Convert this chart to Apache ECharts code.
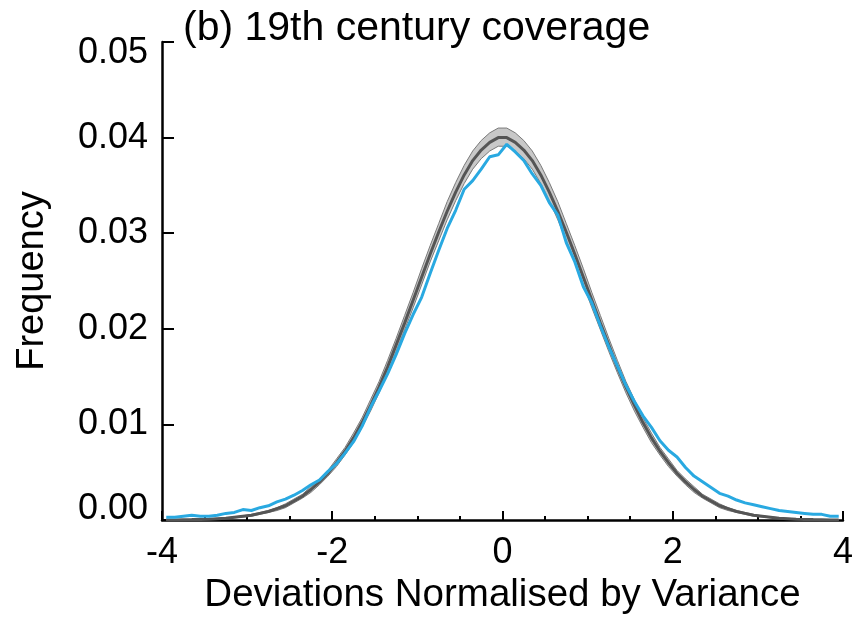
<!DOCTYPE html>
<html>
<head>
<meta charset="utf-8">
<title>19th century coverage</title>
<script src="https://cdn.jsdelivr.net/npm/echarts@6/dist/echarts.min.js"></script>
<style>
  html, body { margin: 0; padding: 0; background: #ffffff; }
  #chart { width: 856px; height: 620px; }
</style>
</head>
<body>
<div id="chart"></div>
<script>
// Bin centres of the normalised-deviation histogram (bin width 0.1)
const binCentres = [
  -3.95, -3.85, -3.75, -3.65, -3.55, -3.45, -3.35, -3.25, -3.15, -3.05,
  -2.95, -2.85, -2.75, -2.65, -2.55, -2.45, -2.35, -2.25, -2.15, -2.05,
  -1.95, -1.85, -1.75, -1.65, -1.55, -1.45, -1.35, -1.25, -1.15, -1.05,
  -0.95, -0.85, -0.75, -0.65, -0.55, -0.45, -0.35, -0.25, -0.15, -0.05,
   0.05,  0.15,  0.25,  0.35,  0.45,  0.55,  0.65,  0.75,  0.85,  0.95,
   1.05,  1.15,  1.25,  1.35,  1.45,  1.55,  1.65,  1.75,  1.85,  1.95,
   2.05,  2.15,  2.25,  2.35,  2.45,  2.55,  2.65,  2.75,  2.85,  2.95,
   3.05,  3.15,  3.25,  3.35,  3.45,  3.55,  3.65,  3.75,  3.85,  3.95
];

// Ensemble mean frequency
const ensembleMean = [
  0.00002, 0.00002, 0.00004, 0.00005, 0.00007, 0.0001, 0.00015, 0.0002, 0.0003, 0.0004,
  0.0005, 0.0007, 0.0009, 0.0012, 0.0015, 0.0020, 0.0025, 0.0032, 0.0040, 0.0049,
  0.0060, 0.0072, 0.0086, 0.0102, 0.0120, 0.0139, 0.0160, 0.0183, 0.0206, 0.0230,
  0.0254, 0.0278, 0.0301, 0.0323, 0.0343, 0.0361, 0.0376, 0.0387, 0.0395, 0.0400,
  0.0400, 0.0395, 0.0387, 0.0376, 0.0361, 0.0343, 0.0323, 0.0301, 0.0278, 0.0254,
  0.0230, 0.0206, 0.0183, 0.0160, 0.0139, 0.0120, 0.0102, 0.0086, 0.0072, 0.0060,
  0.0049, 0.0040, 0.0032, 0.0025, 0.0020, 0.0015, 0.0012, 0.0009, 0.0007, 0.0005,
  0.0004, 0.0003, 0.0002, 0.00015, 0.0001, 0.00007, 0.00005, 0.00004, 0.00002, 0.00002
];

// Upper edge of the ensemble spread
const ensembleUpper = [
  0.00003, 0.00004, 0.00005, 0.00007, 0.0001, 0.00013, 0.00019, 0.00025, 0.00034, 0.00045,
  0.0006, 0.0008, 0.0010, 0.0013, 0.0017, 0.0022, 0.0027, 0.0035, 0.0043, 0.0052,
  0.0064, 0.0076, 0.0091, 0.0107, 0.0126, 0.0145, 0.0167, 0.0190, 0.0214, 0.0238,
  0.0263, 0.0287, 0.0310, 0.0333, 0.0353, 0.0371, 0.0386, 0.0397, 0.0405, 0.0410,
  0.0410, 0.0405, 0.0397, 0.0386, 0.0371, 0.0353, 0.0333, 0.0310, 0.0287, 0.0263,
  0.0238, 0.0214, 0.0190, 0.0167, 0.0145, 0.0126, 0.0107, 0.0091, 0.0076, 0.0064,
  0.0052, 0.0043, 0.0035, 0.0027, 0.0022, 0.0017, 0.0013, 0.0010, 0.0008, 0.0006,
  0.00045, 0.00034, 0.00025, 0.00019, 0.00013, 0.0001, 0.00007, 0.00005, 0.00004, 0.00003
];

// Lower edge of the ensemble spread
const ensembleLower = [
  0.00001, 0.00001, 0.00002, 0.00003, 0.00005, 0.00007, 0.00011, 0.00016, 0.00023, 0.00032,
  0.0004, 0.0006, 0.0008, 0.0010, 0.0013, 0.0018, 0.0023, 0.0029, 0.0037, 0.0046,
  0.0056, 0.0068, 0.0081, 0.0097, 0.0114, 0.0133, 0.0154, 0.0176, 0.0199, 0.0222,
  0.0246, 0.0270, 0.0292, 0.0314, 0.0334, 0.0352, 0.0367, 0.0378, 0.0386, 0.0391,
  0.0391, 0.0386, 0.0378, 0.0367, 0.0352, 0.0334, 0.0314, 0.0292, 0.0270, 0.0246,
  0.0222, 0.0199, 0.0176, 0.0154, 0.0133, 0.0114, 0.0097, 0.0081, 0.0068, 0.0056,
  0.0046, 0.0037, 0.0029, 0.0023, 0.0018, 0.0013, 0.0010, 0.0008, 0.0006, 0.0004,
  0.00032, 0.00023, 0.00016, 0.00011, 0.00007, 0.00005, 0.00003, 0.00002, 0.00001, 0.00001
];

// Observed 19th century frequency
const observed = [
  0.0003, 0.0003, 0.0004, 0.0005, 0.0004, 0.0004, 0.0005, 0.0007, 0.0008, 0.0011,
  0.0010, 0.0013, 0.0015, 0.0019, 0.0022, 0.0026, 0.0031, 0.0037, 0.0042, 0.0051,
  0.0059, 0.0070, 0.0082, 0.0098, 0.0118, 0.0135, 0.0153, 0.0173, 0.0195, 0.0215,
  0.0233, 0.0258, 0.0282, 0.0305, 0.0324, 0.0346, 0.0355, 0.0367, 0.0380, 0.0382,
  0.0393, 0.0385, 0.0376, 0.0362, 0.0350, 0.0332, 0.0319, 0.0290, 0.0270, 0.0244,
  0.0227, 0.0203, 0.0181, 0.0161, 0.0141, 0.0124, 0.0109, 0.0097, 0.0083, 0.0073,
  0.0066, 0.0055, 0.0046, 0.0040, 0.0034, 0.0028, 0.0025, 0.0021, 0.0018, 0.0016,
  0.0014, 0.0012, 0.0010, 0.0009, 0.0008, 0.0007, 0.0006, 0.0006, 0.0004, 0.0004
];

// Axis tick labels
const xTickLabels = ['-4', '-2', '0', '2', '4'];
const xTickValues = [-4, -2, 0, 2, 4];
const yTickLabels = ['0.00', '0.01', '0.02', '0.03', '0.04', '0.05'];

const pairs = (ys) => binCentres.map((x, i) => [x, ys[i]]);

const FONT = 'Liberation Sans, Arial, Helvetica, sans-serif';
const INK = '#000000';

// Shaded ensemble spread: one polygon along the upper edge and back along the lower edge
function renderSpread(params, api) {
  const pts = [];
  for (let i = 0; i < binCentres.length; i++) {
    pts.push(api.coord([binCentres[i], ensembleUpper[i]]));
  }
  for (let i = binCentres.length - 1; i >= 0; i--) {
    pts.push(api.coord([binCentres[i], ensembleLower[i]]));
  }
  return {
    type: 'polygon',
    shape: { points: pts },
    style: { fill: '#c8c8c8', stroke: '#7a7a7a', lineWidth: 1 }
  };
}

const chart = echarts.init(document.getElementById('chart'), null, { renderer: 'canvas' });

chart.setOption({
  animation: false,
  backgroundColor: '#ffffff',
  title: {
    text: '(b) 19th century coverage',
    left: 178,
    top: 3,
    textStyle: { fontFamily: FONT, fontSize: 41, fontWeight: 'normal', color: INK }
  },
  grid: { left: 162, right: 11, top: 42, bottom: 98, containLabel: false },
  xAxis: {
    type: 'value',
    min: -4,
    max: 4,
    interval: 2,
    name: 'Deviations Normalised by Variance',
    nameLocation: 'middle',
    nameGap: 38,
    nameTextStyle: { fontFamily: FONT, fontSize: 38.5, color: INK },
    axisLine: { show: true, onZero: false, lineStyle: { color: INK, width: 2.5 } },
    axisTick: { show: true, inside: true, length: 9, lineStyle: { color: INK, width: 2 } },
    minorTick: { show: true, splitNumber: 4, length: 4, lineStyle: { color: INK, width: 2 } },
    splitLine: { show: false },
    axisLabel: {
      margin: 15,
      fontFamily: FONT,
      fontSize: 36,
      color: INK,
      formatter: (v) => {
        const k = xTickValues.indexOf(Math.round(v));
        return k >= 0 ? xTickLabels[k] : '';
      }
    }
  },
  yAxis: {
    type: 'value',
    min: 0,
    max: 0.05,
    interval: 0.01,
    name: 'Frequency',
    nameLocation: 'middle',
    nameRotate: 90,
    nameGap: 110,
    nameTextStyle: { fontFamily: FONT, fontSize: 38, color: INK },
    axisLine: { show: true, onZero: false, lineStyle: { color: INK, width: 2.5 } },
    axisTick: { show: true, inside: true, length: 12, lineStyle: { color: INK, width: 2 } },
    splitLine: { show: false },
    axisLabel: {
      margin: 14,
      fontFamily: FONT,
      fontSize: 36,
      color: INK,
      formatter: (v) => {
        const k = Math.round(v * 100);
        const txt = yTickLabels[k];
        if (k === 0) return '{low|' + txt + '}';
        if (k === yTickLabels.length - 1) return '{high|' + txt + '}';
        return txt;
      },
      rich: {
        low: { fontFamily: FONT, fontSize: 36, color: INK, padding: [0, 0, 22, 0] },
        high: { fontFamily: FONT, fontSize: 36, color: INK, padding: [22, 0, 0, 0] }
      }
    }
  },
  series: [
    {
      name: 'ensemble spread',
      type: 'custom',
      renderItem: renderSpread,
      data: [[0, 0]],
      silent: true,
      z: 1
    },
    {
      name: 'ensemble mean',
      type: 'line',
      data: pairs(ensembleMean),
      symbol: 'none',
      lineStyle: { color: '#555555', width: 3 },
      z: 2
    },
    {
      name: '19th century',
      type: 'line',
      data: pairs(observed),
      symbol: 'none',
      lineStyle: { color: '#29a9e1', width: 3 },
      z: 3
    }
  ]
});
</script>
</body>
</html>
